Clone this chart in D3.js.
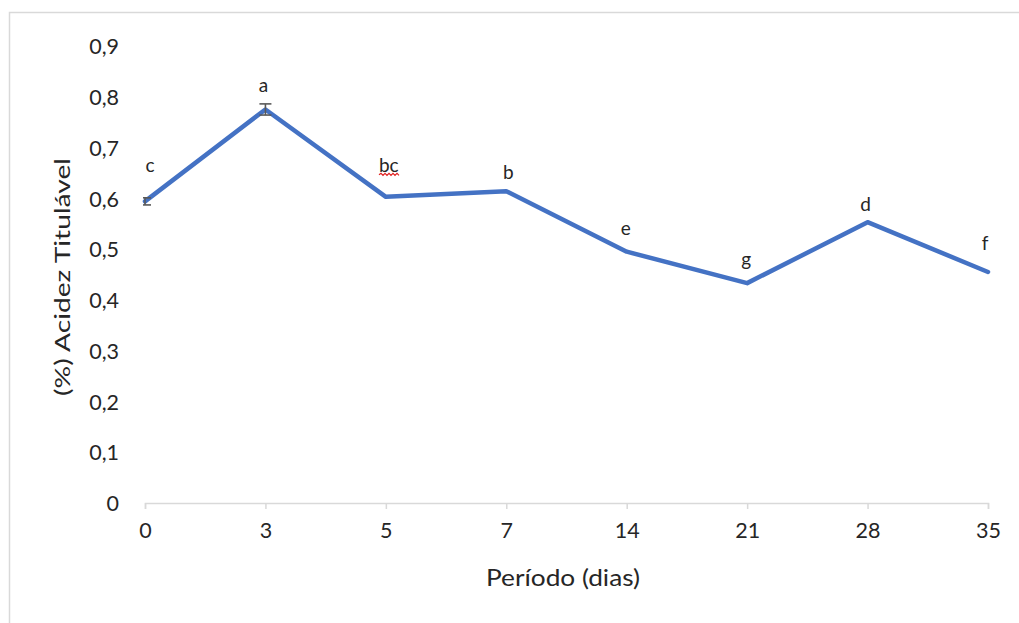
<!DOCTYPE html>
<html>
<head>
<meta charset="utf-8">
<script src="https://cdn.jsdelivr.net/npm/d3@7"></script>
<style>
  body { margin: 0; background: #fff; }
  svg { display: block; }
  text { font-family: Lato, "Open Sans", sans-serif; fill: #262626; }
</style>
</head>
<body>
<svg id="chart" width="1019" height="623"></svg>
<script>
// Storage period (days) and titratable acidity (%)
const periods = ["0", "3", "5", "7", "14", "21", "28", "35"];
const acidity = [0.594, 0.775, 0.603, 0.614, 0.495, 0.433, 0.553, 0.455];
const acidityError = [0.007, 0.011, 0, 0, 0, 0, 0, 0];
const groupLetters = ["c", "a", "bc", "b", "e", "g", "d", "f"];
const yTickValues = [0, 0.1, 0.2, 0.3, 0.4, 0.5, 0.6, 0.7, 0.8, 0.9];

// label placement relative to each point (px)
const letterNudge = [[5, -29], [-2, -17], [3, -25], [2, -12], [-1, -17], [-1, -17], [-2, -11], [-3, -22]];

const svg = d3.select("#chart");
const fmt = v => d3.format(".1f")(v).replace(".", ",").replace(/^0,0$/, "0");

// outer chart frame
svg.append("rect")
  .attr("x", 9.5).attr("y", 12.5)
  .attr("width", 1100).attr("height", 700)
  .attr("fill", "none").attr("stroke", "#d9d9d9").attr("stroke-width", 1.5);

const x = d3.scalePoint().domain(periods).range([145, 988]);
const y = d3.scaleLinear().domain([0, 0.9]).range([503, 46]);

// y axis: labels only
const yAxis = svg.append("g")
  .attr("transform", "translate(119,0)")
  .call(d3.axisLeft(y).tickValues(yTickValues).tickFormat(fmt).tickSize(0).tickPadding(0));
yAxis.select(".domain").remove();
yAxis.selectAll("text")
  .attr("font-size", 21.5).attr("font-family", "Lato, 'Open Sans', sans-serif")
  .attr("fill", "#262626").attr("dy", "0.36em");

// x axis
const xAxis = svg.append("g")
  .attr("transform", "translate(0,503)")
  .call(d3.axisBottom(x).tickSize(6).tickPadding(14));
xAxis.select(".domain").attr("stroke", "#d9d9d9").attr("stroke-width", 1.5);
xAxis.selectAll(".tick line").attr("stroke", "#d9d9d9").attr("stroke-width", 1.5);
xAxis.selectAll("text")
  .attr("font-size", 21.5).attr("font-family", "Lato, 'Open Sans', sans-serif")
  .attr("fill", "#262626");

// axis titles
svg.append("text")
  .attr("x", 563).attr("y", 586)
  .attr("text-anchor", "middle")
  .attr("font-size", 23)
  .attr("textLength", 154).attr("lengthAdjust", "spacingAndGlyphs")
  .text("Período (dias)");

svg.append("text")
  .attr("transform", "translate(70,277) rotate(-90)")
  .attr("text-anchor", "middle")
  .attr("font-size", 22)
  .attr("textLength", 238).attr("lengthAdjust", "spacingAndGlyphs")
  .text("(%) Acidez Titulável");

const data = periods.map((p, i) => ({ p, v: acidity[i], e: acidityError[i], letter: groupLetters[i], nudge: letterNudge[i] }));

// series line
svg.append("path")
  .datum(data)
  .attr("fill", "none")
  .attr("stroke", "#4472C4")
  .attr("stroke-width", 4.5)
  .attr("stroke-linejoin", "round")
  .attr("stroke-linecap", "round")
  .attr("d", d3.line().x(d => x(d.p)).y(d => y(d.v)));

// error bars, clipped to the plot area
svg.append("clipPath").attr("id", "plotClip")
  .append("rect").attr("x", 143).attr("y", 0).attr("width", 876).attr("height", 623);

const eb = svg.append("g").attr("clip-path", "url(#plotClip)")
  .attr("stroke", "#595959").attr("stroke-width", 1.6);
data.filter(d => d.e > 0).forEach(d => {
  const cx = x(d.p), top = y(d.v + d.e), bot = y(d.v - d.e);
  eb.append("line").attr("x1", cx).attr("x2", cx).attr("y1", top).attr("y2", bot);
  eb.append("line").attr("x1", cx - 6).attr("x2", cx + 6).attr("y1", top).attr("y2", top);
  eb.append("line").attr("x1", cx - 6).attr("x2", cx + 6).attr("y1", bot).attr("y2", bot);
});

// significance letters
const letters = svg.append("g");
data.forEach(d => {
  const tx = x(d.p) + d.nudge[0], ty = y(d.v) + d.nudge[1];
  const t = letters.append("text")
    .attr("x", tx).attr("y", ty)
    .attr("text-anchor", "middle")
    .attr("font-size", 19)
    .text(d.letter);
  if (d.letter === "bc") {
    // spell-check style squiggle under the label
    const w = t.node().getComputedTextLength();
    const x0 = tx - w / 2, x1 = tx + w / 2;
    let path = `M${x0},${ty + 3}`;
    let up = true;
    for (let xx = x0 + 2; xx <= x1 + 0.5; xx += 2) {
      path += ` L${xx},${ty + (up ? 1.5 : 3.5)}`;
      up = !up;
    }
    letters.append("path").attr("d", path)
      .attr("fill", "none").attr("stroke", "#e02020").attr("stroke-width", 1.2);
  }
});
</script>
</body>
</html>
